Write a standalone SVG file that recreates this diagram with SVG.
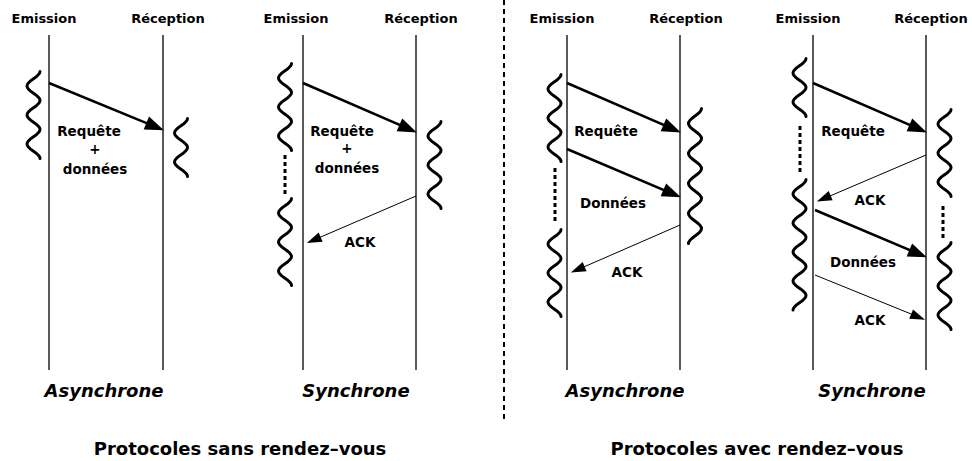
<svg xmlns="http://www.w3.org/2000/svg" width="972" height="461" viewBox="0 0 972 461">
<style>
text{font-family:"DejaVu Sans","Liberation Sans",sans-serif;fill:#000;text-anchor:middle}
.hd{font-size:13px;font-weight:bold}
.lb{font-size:13.5px;font-weight:bold}
.it{font-size:18px;font-weight:bold;font-style:italic}
.ti{font-size:18px;font-weight:bold}
.axis{stroke:#222;stroke-width:1.5;fill:none}
.wave{stroke:#000;stroke-width:3;fill:none;stroke-linecap:round}
.dots{stroke:#000;stroke-width:3;fill:none;stroke-dasharray:4 3}
.thick{stroke:#000;stroke-width:2.5;fill:none;marker-end:url(#hb)}
.thin{stroke:#000;stroke-width:1;fill:none;marker-end:url(#hs)}
.sep{stroke:#000;stroke-width:2;stroke-dasharray:5 4;fill:none}
</style>
<defs>
<marker id="hb" markerUnits="userSpaceOnUse" markerWidth="20" markerHeight="14" refX="14" refY="7" orient="auto" overflow="visible">
<path d="M0,0 L19,7 L0,14 z" fill="#000"/>
</marker>
<marker id="hs" markerUnits="userSpaceOnUse" markerWidth="16" markerHeight="10" refX="13" refY="5" orient="auto" overflow="visible">
<path d="M0,0 L15,5 L0,10 z" fill="#000"/>
</marker>
</defs>

<line class="sep" x1="504" y1="0" x2="504" y2="420"/>

<g id="panel-async-sans">
<text class="hd" x="44" y="23">Emission</text>
<text class="hd" x="168" y="23">Réception</text>
<line class="axis" x1="49" y1="35" x2="49" y2="370"/>
<line class="axis" x1="163" y1="35" x2="163" y2="370"/>
<path class="wave" d="M40,71.5 c0,5.8 -13,8.7 -13,14.5 s13,8.7 13,14.5 s-13,8.7 -13,14.5 s13,8.7 13,14.5 s-13,8.7 -13,14.5 s13,8.7 13,14.5"/>
<path class="wave" d="M187.5,118.5 c0,5.8 -13,8.7 -13,14.5 s13,8.7 13,14.5 s-13,8.7 -13,14.5 s13,8.7 13,14.5"/>
<text class="lb" x="89" y="136">Requête</text>
<text class="lb" x="95" y="154">+</text>
<text class="lb" x="95" y="174">données</text>
<text class="it" x="104" y="397">Asynchrone</text>
</g>

<g id="panel-sync-sans">
<text class="hd" x="296" y="23">Emission</text>
<text class="hd" x="421" y="23">Réception</text>
<line class="axis" x1="303" y1="35" x2="303" y2="370"/>
<line class="axis" x1="416" y1="35" x2="416" y2="370"/>
<path class="wave" d="M291.5,63.5 c0,5.8 -13,8.7 -13,14.5 s13,8.7 13,14.5 s-13,8.7 -13,14.5 s13,8.7 13,14.5 s-13,8.7 -13,14.5 s13,8.7 13,14.5"/>
<line class="dots" x1="285" y1="155" x2="285" y2="196"/>
<path class="wave" d="M291.5,198.5 c0,5.8 -13,8.7 -13,14.5 s13,8.7 13,14.5 s-13,8.7 -13,14.5 s13,8.7 13,14.5 s-13,8.7 -13,14.5 s13,8.7 13,14.5"/>
<path class="wave" d="M441,121.5 c0,5.8 -13,8.7 -13,14.5 s13,8.7 13,14.5 s-13,8.7 -13,14.5 s13,8.7 13,14.5 s-13,8.7 -13,14.5 s13,8.7 13,14.5"/>
<text class="lb" x="342" y="136">Requête</text>
<text class="lb" x="347" y="153">+</text>
<text class="lb" x="347" y="173">données</text>
<text class="lb" x="360" y="247">ACK</text>
<text class="it" x="356" y="397">Synchrone</text>
</g>

<g id="panel-async-avec">
<text class="hd" x="562" y="23">Emission</text>
<text class="hd" x="686" y="23">Réception</text>
<line class="axis" x1="567" y1="35" x2="567" y2="370"/>
<line class="axis" x1="680" y1="35" x2="680" y2="370"/>
<path class="wave" d="M561,74.5 c0,5.8 -13,8.7 -13,14.5 s13,8.7 13,14.5 s-13,8.7 -13,14.5 s13,8.7 13,14.5 s-13,8.7 -13,14.5 s13,8.7 13,14.5"/>
<line class="dots" x1="555" y1="168" x2="555" y2="224"/>
<path class="wave" d="M561,229.5 c0,5.8 -13,8.7 -13,14.5 s13,8.7 13,14.5 s-13,8.7 -13,14.5 s13,8.7 13,14.5 s-13,8.7 -13,14.5 s13,8.7 13,14.5"/>
<path class="wave" d="M701.5,108.5 c0,6 -13,9 -13,15 s13,9 13,15 s-13,9 -13,15 s13,9 13,15 s-13,9 -13,15 s13,9 13,15 s-13,9 -13,15 s13,9 13,15 s-13,9 -13,15"/>
<text class="lb" x="606" y="136">Requête</text>
<text class="lb" x="613" y="208">Données</text>
<text class="lb" x="627" y="277">ACK</text>
<text class="it" x="625" y="397">Asynchrone</text>
</g>

<g id="panel-sync-avec">
<text class="hd" x="808" y="23">Emission</text>
<text class="hd" x="931" y="23">Réception</text>
<line class="axis" x1="813" y1="35" x2="813" y2="370"/>
<line class="axis" x1="926" y1="35" x2="926" y2="370"/>
<path class="wave" d="M806,58.5 c0,5.8 -13,8.7 -13,14.5 s13,8.7 13,14.5 s-13,8.7 -13,14.5 s13,8.7 13,14.5"/>
<line class="dots" x1="800" y1="126" x2="800" y2="172"/>
<path class="wave" d="M806,179.5 c0,5.8 -13,8.7 -13,14.5 s13,8.7 13,14.5 s-13,8.7 -13,14.5 s13,8.7 13,14.5 s-13,8.7 -13,14.5 s13,8.7 13,14.5 s-13,8.7 -13,14.5 s13,8.7 13,14.5 s-13,8.7 -13,14.5"/>
<path class="wave" d="M951,109.5 c0,5.8 -13,8.7 -13,14.5 s13,8.7 13,14.5 s-13,8.7 -13,14.5 s13,8.7 13,14.5 s-13,8.7 -13,14.5 s13,8.7 13,14.5"/>
<line class="dots" x1="943" y1="206" x2="943" y2="238"/>
<path class="wave" d="M951,242.5 c0,5.8 -13,8.7 -13,14.5 s13,8.7 13,14.5 s-13,8.7 -13,14.5 s13,8.7 13,14.5 s-13,8.7 -13,14.5 s13,8.7 13,14.5"/>
<text class="lb" x="853" y="136">Requête</text>
<text class="lb" x="870" y="205">ACK</text>
<text class="lb" x="863" y="267">Données</text>
<text class="lb" x="870" y="325">ACK</text>
<text class="it" x="872" y="397">Synchrone</text>
</g>

<g id="connectors">
<line class="thick" x1="49" y1="83" x2="159.3" y2="128.4"/>
<line class="thick" x1="303" y1="83" x2="412.3" y2="130.4"/>
<line class="thin" x1="416" y1="196" x2="308.7" y2="242.2"/>
<line class="thick" x1="567" y1="83" x2="676.3" y2="130.4"/>
<line class="thick" x1="567" y1="149" x2="676.3" y2="195.4"/>
<line class="thin" x1="680" y1="225" x2="572.7" y2="271.8"/>
<line class="thick" x1="813" y1="83" x2="922.3" y2="130.4"/>
<line class="thin" x1="926" y1="155" x2="818.7" y2="200.8"/>
<line class="thick" x1="815" y1="210" x2="922.3" y2="255.4"/>
<line class="thin" x1="815" y1="275" x2="923.2" y2="318.9"/>
</g>

<text class="ti" x="240" y="455">Protocoles sans rendez–vous</text>
<text class="ti" x="757" y="455">Protocoles avec rendez–vous</text>
</svg>
